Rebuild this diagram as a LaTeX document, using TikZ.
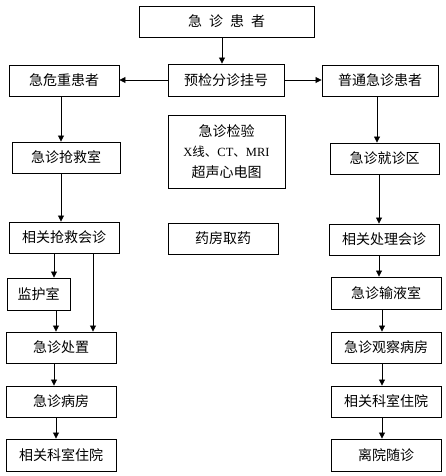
\documentclass[tikz,border=0pt]{standalone}
\usepackage{fontspec}
\setmainfont{Liberation Serif}
\newfontfamily\cjk{Noto Sans CJK SC}
\usetikzlibrary{arrows.meta}
\tikzset{
  box/.style={draw=black, line width=0.9pt, inner sep=0pt, align=center,
    font=\cjk\fontsize{14pt}{20.5pt}\selectfont},
  arr/.style={line width=0.8pt, -{Triangle[length=6pt,width=6pt]}},
  ln/.style={line width=0.8pt}
}
\begin{document}
\begin{tikzpicture}[x=1pt,y=-1pt]
\useasboundingbox (0,0) rectangle (446,476);
\fill[white] (0,0) rectangle (446,476);

\node[box, minimum width=175pt, minimum height=31pt] (top) at (226.5,21.5) {急\hspace{7pt}诊\hspace{7pt}患\hspace{7pt}者};
\node[box, minimum width=116pt, minimum height=32pt] (yujian) at (226,80) {预检分诊挂号};
\node[box, minimum width=110pt, minimum height=31pt] (jiwei) at (64,80.5) {急危重患者};
\node[box, minimum width=116pt, minimum height=31pt] (putong) at (380,80.5) {普通急诊患者};
\node[box, minimum width=117pt, minimum height=73pt] (jianyan) at (226.5,151.5)
  {急诊检验\\{\fontsize{12.5pt}{14pt}\selectfont{\rmfamily X}线、{\rmfamily CT}、{\rmfamily MRI}}\\超声心电图};
\node[box, minimum width=108pt, minimum height=31pt] (qiangjiu) at (66,157.5) {急诊抢救室};
\node[box, minimum width=109pt, minimum height=31pt] (jiuzhen) at (384.5,158.5) {急诊就诊区};
\node[box, minimum width=110pt, minimum height=31pt] (huizhenL) at (64,237.5) {相关抢救会诊};
\node[box, minimum width=110pt, minimum height=31pt] (yaofang) at (223,238.5) {药房取药};
\node[box, minimum width=110pt, minimum height=31pt] (chuli) at (384,239.5) {相关处理会诊};
\node[box, minimum width=63pt, minimum height=32pt] (jianhu) at (38.5,294) {监护室};
\node[box, minimum width=110pt, minimum height=32pt] (shuye) at (386,293) {急诊输液室};
\node[box, minimum width=110pt, minimum height=31pt] (chuzhi) at (61,347.5) {急诊处置};
\node[box, minimum width=110pt, minimum height=31pt] (guancha) at (386,347.5) {急诊观察病房};
\node[box, minimum width=110pt, minimum height=31pt] (bingfang) at (61,401.5) {急诊病房};
\node[box, minimum width=110pt, minimum height=32pt] (zhuyuanL) at (61,455) {相关科室住院};
\node[box, minimum width=110pt, minimum height=31pt] (zhuyuanR) at (386,401.5) {相关科室住院};
\node[box, minimum width=110pt, minimum height=32pt] (liyuan) at (386,455) {离院随诊};

\draw[arr] ([xshift=-4.5pt]top.south) -- ([xshift=-4.5pt]top.south |- yujian.north);
\draw[arr] (yujian.west) -- (yujian.west -| jiwei.east);
\draw[arr] (yujian.east) -- (yujian.east -| putong.west);
\draw[arr] ([xshift=-3pt]jiwei.south) -- ([xshift=-3pt]jiwei.south |- qiangjiu.north);
\draw[arr] ([xshift=-3pt]putong.south) -- ([xshift=-3pt]putong.south |- jiuzhen.north);
\draw[arr] ([xshift=-5pt]qiangjiu.south) -- ([xshift=-5pt]qiangjiu.south |- huizhenL.north);
\draw[arr] ([xshift=-5.5pt]jiuzhen.south) -- ([xshift=-5.5pt]jiuzhen.south |- chuli.north);
\draw[arr] ([xshift=-10pt]huizhenL.south) -- ([xshift=-10pt]huizhenL.south |- jianhu.north);
\draw[arr] ([xshift=29pt]huizhenL.south) -- ([xshift=29pt]huizhenL.south |- chuzhi.north);
\draw[arr] ([xshift=-5pt]chuli.south) -- ([xshift=-5pt]chuli.south |- shuye.north);
\draw[arr] ([xshift=17.5pt]jianhu.south) -- ([xshift=17.5pt]jianhu.south |- chuzhi.north);
\draw[arr] ([xshift=-4pt]shuye.south) -- ([xshift=-4pt]shuye.south |- guancha.north);
\draw[arr] ([xshift=-7pt]chuzhi.south) -- ([xshift=-7pt]chuzhi.south |- bingfang.north);
\draw[arr] ([xshift=-5pt]bingfang.south) -- ([xshift=-5pt]bingfang.south |- zhuyuanL.north);
\draw[arr] ([xshift=-4pt]guancha.south) -- ([xshift=-4pt]guancha.south |- zhuyuanR.north);
\draw[arr] ([xshift=-4pt]zhuyuanR.south) -- ([xshift=-4pt]zhuyuanR.south |- liyuan.north);
\end{tikzpicture}
\end{document}
